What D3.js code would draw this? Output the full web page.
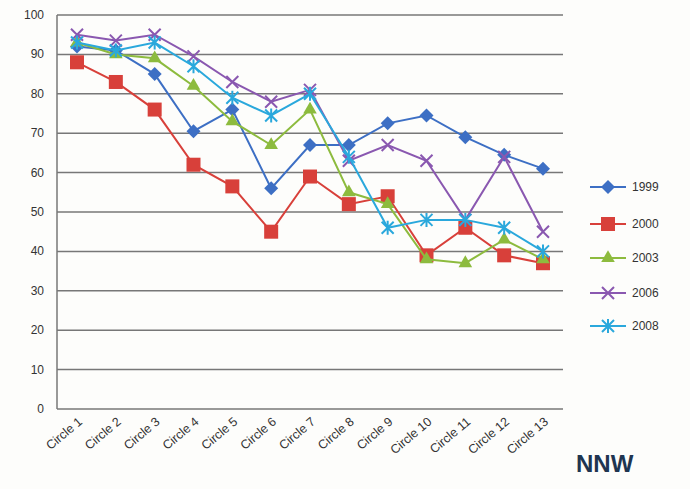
<!DOCTYPE html><html><head><script src="https://cdn.jsdelivr.net/npm/d3@7"></script>
<style>body{margin:0;background:#fdfdfb;font-family:"Liberation Sans",Arial,sans-serif}</style></head><body><svg id="c" width="690" height="489"></svg>
<script>
const categories=["Circle 1","Circle 2","Circle 3","Circle 4","Circle 5","Circle 6","Circle 7","Circle 8","Circle 9","Circle 10","Circle 11","Circle 12","Circle 13"];
const s1999=[92,91,85,70.5,76,56,67,67,72.5,74.5,69,64.5,61];
const s2000=[88,83,76,62,56.5,45,59,52,54,39,46,39,37];
const s2003=[93,90,89,82,73,67,76,55,52,38,37,43,38];
const s2006=[95,93.5,95,89.5,83,78,81,63,67,63,48,64,45];
const s2008=[93,91,93,87,79,74.5,80,64,46,48,48,46,40];
const yTicks=[0,10,20,30,40,50,60,70,80,90,100];
const series=[["1999",s1999,"#3d6fc4","diamond"],["2000",s2000,"#d8403a","square"],["2003",s2003,"#8dbb3e","triangle"],["2006",s2006,"#8a58b0","x"],["2008",s2008,"#2aa8dc","star"]];
const svg=d3.select("#c");
const x=d3.scalePoint().domain(categories).range([77,543]);
const y=d3.scaleLinear().domain([0,100]).range([409,15]);
const g=svg.append("g");
yTicks.forEach(t=>g.append("line").attr("x1",57).attr("x2",563).attr("y1",y(t)).attr("y2",y(t)).attr("stroke","#777").attr("stroke-width",1.5));
g.append("line").attr("x1",57).attr("x2",57).attr("y1",y(0)).attr("y2",y(100)).attr("stroke","#777").attr("stroke-width",1.5);
yTicks.forEach(t=>g.append("text").attr("x",44).attr("y",y(t)+4).attr("text-anchor","end").attr("font-size",12).attr("fill","#333").text(t));
categories.forEach(c=>g.append("text").attr("transform",`translate(${x(c)+6},${y(0)+14}) rotate(-40)`).attr("text-anchor","end").attr("font-size",12.5).attr("fill","#333").text(c));
function marker(sel,type,color){
 if(type==="diamond")sel.append("path").attr("d","M0,-7L7,0L0,7L-7,0Z").attr("fill",color);
 else if(type==="square")sel.append("rect").attr("x",-7).attr("y",-7).attr("width",14).attr("height",14).attr("fill",color);
 else if(type==="triangle")sel.append("path").attr("d",d3.symbol(d3.symbolTriangle,80)()).attr("fill",color);
 else if(type==="x")sel.append("path").attr("d","M-6,-6L6,6M-6,6L6,-6").attr("stroke",color).attr("stroke-width",2);
 else sel.append("path").attr("d","M-6,-6L6,6M-6,6L6,-6M0,-7L0,7").attr("stroke",color).attr("stroke-width",2);
}
series.forEach(([name,vals,color,type],i)=>{
 g.append("path").datum(vals).attr("fill","none").attr("stroke",color).attr("stroke-width",2)
  .attr("d",d3.line().x((d,j)=>x(categories[j])).y(d=>y(d)));
 vals.forEach((v,j)=>marker(g.append("g").attr("transform",`translate(${x(categories[j])},${y(v)})`),type,color));
 const ly=[187,224,258,293,326][i];
 g.append("line").attr("x1",590).attr("x2",626).attr("y1",ly).attr("y2",ly).attr("stroke",color).attr("stroke-width",2);
 marker(g.append("g").attr("transform",`translate(608,${ly})`),type,color);
 g.append("text").attr("x",632).attr("y",ly+4).attr("font-size",12).attr("fill","#333").text(name);
});
g.append("text").attr("x",576).attr("y",472).attr("font-size",24).attr("font-weight","bold").attr("fill","#1f3550").text("NNW");
</script></body></html>
